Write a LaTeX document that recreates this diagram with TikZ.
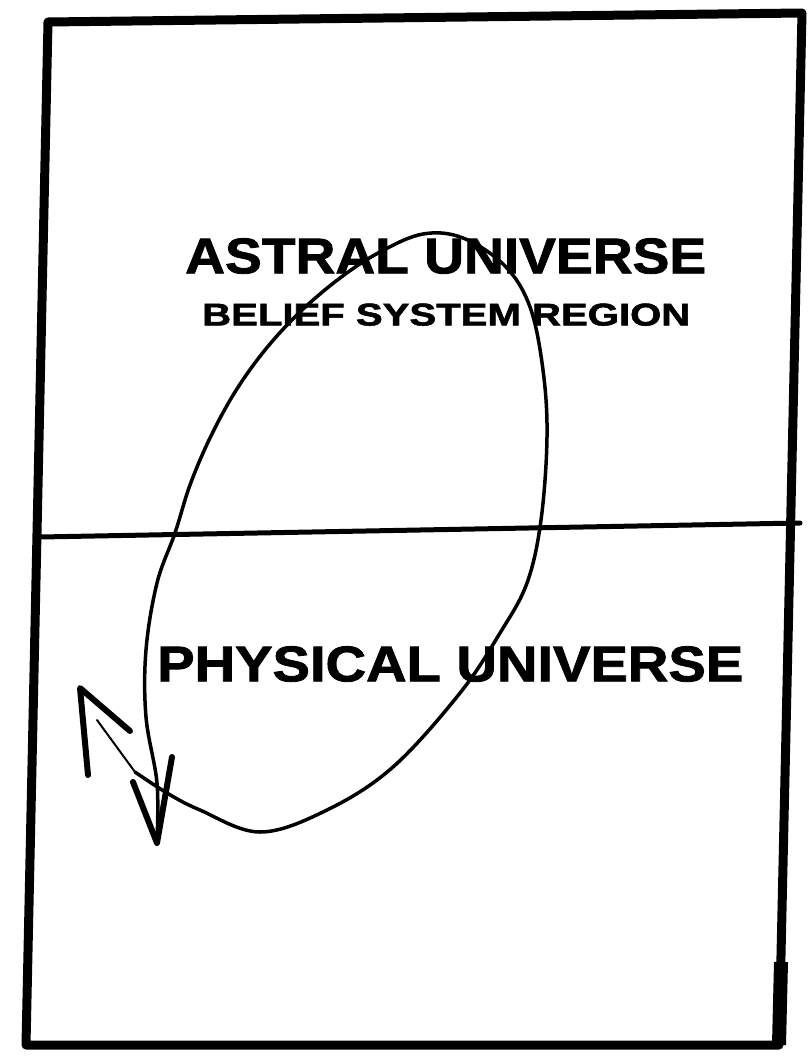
\documentclass[tikz,border=0pt]{standalone}
\usepackage{fontspec}
\setmainfont{Liberation Sans}
\newfontfamily\heavyfont[FakeBold=1.6]{Liberation Sans Bold}
\usepackage{graphicx}
\tikzset{
  frameline/.style={line width=9pt, line join=round, line cap=round},
  midline/.style={line width=5pt, line cap=round},
  loopline/.style={line width=3.5pt, line cap=round, line join=round},
  faintline/.style={line width=2pt, line cap=round},
  headline/.style={line width=6pt, line cap=round, line join=round},
  label/.style={inner sep=0pt, anchor=south west, font=\heavyfont}
}
\begin{document}
\begin{tikzpicture}[x=1pt,y=-1pt]
\useasboundingbox (0,0) rectangle (808,1057);
% frame
\draw[frameline] (48,22) -- (802,13) -- (779,1045) -- (26,1045) -- cycle;
\draw[line width=14pt] (781,962) -- (779,1045);
% dividing line
\draw[midline] (40,537) -- (800,523);
% texts
\node[label] (astral) at (185,274) {\resizebox{521pt}{35pt}{ASTRAL UNIVERSE}};
\node[label] (belief) at (202,326) {\resizebox{488pt}{22pt}{BELIEF SYSTEM REGION}};
\node[label] (physical) at (157,682) {\resizebox{586pt}{35pt}{PHYSICAL UNIVERSE}};
% loop
\draw[loopline] plot[smooth, tension=0.6] coordinates {
  (157,840) (157,783) (146,717) (146,650) (157,583) (175,533) (190,485)
  (210,438) (235,392) (265,350) (300,312) (340,278) (380,252) (423,234)
  (463,238) (505,266) (530,307) (543,370) (547,437) (541,520) (527,583)
  (500,633) (460,693) (393,767) (327,810) (260,832) (200,810) (167,793)
  (135,772)};
\draw[faintline] (135,772) -- (97,720);
% arrowheads
\draw[headline] (133,782) -- (157,843) -- (172,757);
\draw[headline] (88,775) -- (80,688) -- (130,731);
\end{tikzpicture}
\end{document}
